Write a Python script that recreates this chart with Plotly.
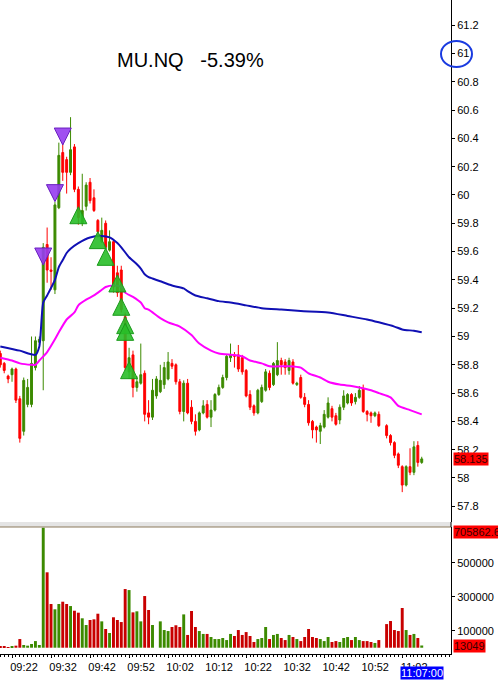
import pandas as pd
import plotly.graph_objects as go
from plotly.subplots import make_subplots

# ---------------- data (1-minute bars starting 09:19) ----------------
session_start = "2024-01-01 09:19:00"
opens = [58.88, 58.81, 58.72, 58.73, 58.77, 58.56, 58.33, 58.52, 58.52, 58.78,
         58.96, 58.97, 59.65, 59.47, 59.33, 59.91, 60.30, 60.25, 60.16, 60.34,
         60.04, 59.80, 59.92, 60.09, 59.98, 59.82, 59.67, 59.80, 59.61, 59.67,
         59.45, 59.47, 59.14, 58.75, 58.87, 58.64, 58.67, 58.74, 58.46, 58.43,
         58.58, 58.61, 58.66, 58.70, 58.81, 58.80, 58.68, 58.47, 58.67, 58.50,
         58.40, 58.34, 58.46, 58.52, 58.43, 58.48, 58.59, 58.64, 58.71, 58.85,
         58.87, 58.87, 58.85, 58.76, 58.59, 58.51, 58.46, 58.54, 58.62, 58.74,
         58.66, 58.73, 58.83, 58.82, 58.76, 58.82, 58.66, 58.71, 58.57, 58.52,
         58.40, 58.36, 58.33, 58.36, 58.43, 58.49, 58.44, 58.41, 58.50, 58.53,
         58.59, 58.54, 58.57, 58.63, 58.47, 58.46, 58.44, 58.45, None, 58.37,
         58.30, 58.25, 58.17, 58.08, 57.95, 58.08, 58.04, 58.23, 58.11]
highs = [58.90, 58.82, 58.73, 58.78, 58.78, 58.58, 58.71, 58.70, 59.00, 59.00,
         59.00, 59.66, 59.77, 59.56, 59.95, 60.37, 60.37, 60.27, 60.55, 60.36,
         60.06, 60.15, 60.09, 60.12, 60.04, 59.83, 59.84, 59.82, 59.75, 59.68,
         59.50, 59.50, 59.17, 58.92, 58.90, 58.72, 58.95, 58.76, 58.55, 58.70,
         58.72, 58.80, 58.82, 58.89, 58.84, 58.81, 58.70, 58.69, 58.70, 58.55,
         58.45, 58.47, 58.55, 58.55, 58.55, 58.60, 58.66, 58.73, 58.87, 58.95,
         58.89, 58.94, 58.87, 58.77, 58.62, 58.52, 58.63, 58.66, 58.77, 58.76,
         58.82, 58.96, 58.85, 58.84, 58.85, 58.84, 58.68, 58.73, 58.60, 58.55,
         58.41, 58.37, 58.39, 58.48, 58.57, 58.51, 58.46, 58.52, 58.62, 58.60,
         58.60, 58.60, 58.65, 58.66, 58.48, 58.47, 58.47, 58.47, None, 58.38,
         58.31, 58.26, 58.18, 58.09, 58.09, 58.21, 58.26, 58.26, 58.15]
lows = [58.78, 58.74, 58.67, 58.68, 58.53, 58.25, 58.30, 58.50, 58.50, 58.76,
        58.94, 58.62, 59.38, 59.33, 59.30, 59.90, 60.10, 60.01, 60.14, 60.02,
        59.79, 59.78, 59.89, 59.94, 59.88, 59.70, 59.66, 59.62, 59.60, 59.31,
        59.28, 59.17, 58.76, 58.70, 58.57, 58.61, 58.66, 58.40, 58.38, 58.41,
        58.56, 58.60, 58.63, 58.69, 58.77, 58.66, 58.45, 58.40, 58.45, 58.38,
        58.30, 58.33, 58.45, 58.42, 58.36, 58.47, 58.58, 58.63, 58.69, 58.82,
        58.78, 58.75, 58.73, 58.57, 58.48, 58.44, 58.45, 58.53, 58.61, 58.62,
        58.65, 58.72, 58.73, 58.73, 58.73, 58.66, 58.65, 58.56, 58.50, 58.37,
        58.28, 58.25, 58.24, 58.35, 58.42, 58.40, 58.37, 58.38, 58.48, 58.52,
        58.51, 58.52, 58.56, 58.46, 58.40, 58.39, 58.43, 58.36, None, 58.28,
        58.23, 58.14, 58.07, 57.90, 57.94, 58.02, 58.02, 58.08, 58.10]
closes = [58.80, 58.76, 58.70, 58.77, 58.55, 58.28, 58.69, 58.64, 58.81, 58.97,
          58.98, 59.63, 59.47, 59.46, 59.93, 60.28, 60.16, 60.16, 60.32, 60.04,
          59.84, 59.89, 60.07, 59.96, 59.89, 59.74, 59.75, 59.63, 59.67, 59.35,
          59.31, 59.19, 58.78, 58.85, 58.64, 58.68, 58.73, 58.45, 58.43, 58.62,
          58.70, 58.69, 58.78, 58.82, 58.79, 58.68, 58.47, 58.67, 58.46, 58.40,
          58.33, 58.46, 58.51, 58.43, 58.48, 58.59, 58.64, 58.71, 58.86, 58.87,
          58.86, 58.77, 58.75, 58.58, 58.50, 58.46, 58.62, 58.64, 58.75, 58.64,
          58.81, 58.83, 58.80, 58.78, 58.83, 58.67, 58.67, 58.57, 58.52, 58.39,
          58.34, 58.34, 58.37, 58.45, 58.53, 58.43, 58.38, 58.50, 58.58, 58.59,
          58.53, 58.57, 58.62, 58.47, 58.45, 58.44, 58.46, 58.37, None, 58.30,
          58.25, 58.16, 58.09, 57.95, 58.08, 58.04, 58.22, 58.11, 58.135]
volumes = [10000, 6000, 4000, 6000, 12000, 51000, 16000, 12000, 22000, 39000,
           16000, 705862.6, 443500, 257000, 226000, 257000, 270600, 257000, 245000, 217600,
           206000, 173000, 133500, 163000, 167000, 200000, 155000, 110000, 86500, 179000,
           163000, 151000, 345000, 339000, 208000, 214000, 155000, 304000, 222000, 133500,
           None, 155000, 104000, 98000, 122000, 132000, 122000, 196000, 75000, 216000,
           122000, 98000, 81000, 81000, 63000, 51000, 51000, 57000, 45000, 81000,
           69000, 104000, 75000, 92000, 69000, 33500, 51000, 57000, 122000, 51000,
           75000, 81000, 57000, 45000, 75000, 63000, 51000, 39000, 63000, 110000,
           63000, 57000, 51000, 39000, 63000, 33500, 39000, 33500, 57000, 63000,
           45000, 63000, 45000, 39000, 39000, 33500, 28000, 45000, None, 139000,
           157000, 104000, 98000, 233500, 104000, 75000, 81000, 57000, 13049]

# moving-average lines read at sample minutes (minute offset from 09:19)
blue_min = [0, 5, 9, 10, 11, 12, 14, 15, 16, 17, 18, 20, 23, 26, 28, 30, 31, 33, 35, 36,
            37, 38, 39, 41, 44, 47, 48, 50, 53, 56, 59, 63, 67, 72, 77, 84, 89, 94, 97, 101,
            103, 106, 108]
blue_val = [58.93, 58.90, 58.87, 58.93, 59.24, 59.29, 59.40, 59.49, 59.54, 59.59, 59.62,
            59.66, 59.70, 59.71, 59.70, 59.66, 59.63, 59.56, 59.51, 59.48, 59.44, 59.42,
            59.41, 59.39, 59.36, 59.34, 59.32, 59.29, 59.27, 59.25, 59.24, 59.22, 59.20,
            59.19, 59.18, 59.17, 59.145, 59.12, 59.10, 59.07, 59.05, 59.04, 59.03]
mag_min = [0, 3, 5, 8, 9, 10, 12, 14, 15, 17, 19, 20, 22, 24, 26, 27, 29, 31, 32, 34,
           36, 37, 38, 41, 43, 46, 49, 51, 54, 56, 60, 62, 64, 67, 69, 74, 77, 79, 82, 84,
           87, 90, 92, 95, 97, 100, 102, 105, 108]
mag_val = [58.85, 58.83, 58.81, 58.80, 58.80, 58.83, 58.89, 58.98, 59.03, 59.12, 59.17,
           59.22, 59.26, 59.29, 59.33, 59.35, 59.36, 59.35, 59.31, 59.28, 59.24, 59.20,
           59.19, 59.13, 59.10, 59.07, 59.01, 58.95, 58.90, 58.88, 58.87, 58.86, 58.83,
           58.81, 58.79, 58.79, 58.78, 58.74, 58.71, 58.68, 58.66, 58.65, 58.64, 58.62,
           58.60, 58.57, 58.51, 58.48, 58.45]

# signal markers (minute offset, price at arrow tip)
sell_min = [11, 14, 16]
sell_px = [59.505, 59.953, 60.353]
buy_min = [20, 25, 27, 30, 31, 32, 32, 33]
buy_px = [59.917, 59.741, 59.623, 59.435, 59.27, 59.14, 59.093, 58.822]

title_text = "MU.NQ\u00a0\u00a0 -5.39%"
last_price_label = "58.135"
vol_max_label = "705862.6"
vol_last_label = "13049"
time_label = "11:07:00"
x_tick_labels = ["09:22", "09:32", "09:42", "09:52", "10:02", "10:12",
                 "10:22", "10:32", "10:42", "10:52", "11:02"]

# ---------------- build ----------------
t0 = pd.Timestamp(session_start)
def tm(m):
    return t0 + pd.Timedelta(minutes=m)

times = [tm(i) for i in range(len(opens))]
valid = [i for i in range(len(opens)) if opens[i] is not None]

UP = "#3c8a00"
DOWN = "#ff0000"
VUP = "#3c8a00"
VDOWN = "#c80000"

fig = make_subplots(rows=2, cols=1, shared_xaxes=True)

fig.add_trace(go.Candlestick(
    x=[times[i] for i in valid],
    open=[opens[i] for i in valid], high=[highs[i] for i in valid],
    low=[lows[i] for i in valid], close=[closes[i] for i in valid],
    increasing=dict(line=dict(color=UP, width=1), fillcolor=UP),
    decreasing=dict(line=dict(color=DOWN, width=1), fillcolor=DOWN),
    whiskerwidth=0, showlegend=False, hoverinfo="skip"), row=1, col=1)

fig.add_trace(go.Scatter(x=[tm(m) for m in blue_min], y=blue_val, mode="lines",
                         line=dict(color="#1010b4", width=2, shape="spline", smoothing=0.6),
                         showlegend=False, hoverinfo="skip"), row=1, col=1)
fig.add_trace(go.Scatter(x=[tm(m) for m in mag_min], y=mag_val, mode="lines",
                         line=dict(color="#ff00ff", width=2, shape="spline", smoothing=0.6),
                         showlegend=False, hoverinfo="skip"), row=1, col=1)

fig.add_trace(go.Scatter(x=[tm(m) for m in sell_min], y=sell_px, mode="markers",
                         marker=dict(symbol="arrow-down", size=17, color="rgba(150,60,240,0.9)",
                                     line=dict(color="#6a1fc0", width=1)),
                         showlegend=False, hoverinfo="skip"), row=1, col=1)
fig.add_trace(go.Scatter(x=[tm(m) for m in buy_min], y=buy_px, mode="markers",
                         marker=dict(symbol="arrow-up", size=17, color="rgba(40,190,40,0.9)",
                                     line=dict(color="#1a9a1a", width=1)),
                         showlegend=False, hoverinfo="skip"), row=1, col=1)

vcolors = []
for i in range(len(opens)):
    if opens[i] is None:
        vcolors.append(VUP)
    else:
        vcolors.append(VUP if closes[i] >= opens[i] else VDOWN)
fig.add_trace(go.Bar(x=times, y=volumes, marker=dict(color=vcolors, line=dict(width=0)),
                     showlegend=False, hoverinfo="skip"), row=2, col=1)

H_PLOT = 654.0
price_bottom = (H_PLOT - 522) / H_PLOT
vol_top = (H_PLOT - 527) / H_PLOT

x_range = [tm(-0.08), tm(115.5)]
tick_font = dict(family="Liberation Sans, Arial, sans-serif", size=11, color="#000000")

fig.update_layout(
    width=498, height=680,
    margin=dict(l=0, r=47, t=0, b=26),
    paper_bgcolor="white", plot_bgcolor="white",
    bargap=0.25,
    showlegend=False,
    font=tick_font,
)
fig.update_xaxes(rangeslider_visible=False)
fig.update_layout(
    xaxis=dict(range=x_range, showticklabels=False, showgrid=False, zeroline=False,
               showline=False, ticks=""),
    xaxis2=dict(range=x_range, showgrid=False, zeroline=False, showline=True,
                linecolor="#000000", linewidth=1, ticks="outside", ticklen=3,
                tickcolor="#000000", tickmode="array",
                tickvals=[pd.Timestamp("2024-01-01 " + s) for s in x_tick_labels],
                ticktext=x_tick_labels, ticklabelshift=12, tickfont=tick_font,
                minor=dict(ticks="outside", ticklen=2, dtick=60000, tickcolor="#000000",
                           showgrid=False)),
    yaxis=dict(domain=[price_bottom, 1], range=[57.689, 61.378], side="right",
               dtick=0.2, tick0=57.8, showgrid=False, zeroline=False, showline=True,
               linecolor="#000000", linewidth=1, ticks="outside", ticklen=3,
               tickcolor="#000000", tickfont=tick_font),
    yaxis2=dict(domain=[0, vol_top], range=[-37000, 710000], side="right",
                tickmode="array", tickvals=[100000, 300000, 500000], tickformat="d",
                showgrid=False, zeroline=False, showline=True, linecolor="#000000",
                linewidth=1, ticks="outside", ticklen=3, tickcolor="#000000",
                tickfont=tick_font),
)

# separator between panes
fig.add_shape(type="rect", xref="paper", yref="paper", x0=0, x1=1,
              y0=vol_top, y1=price_bottom, fillcolor="#e4e4e4", line=dict(width=0))
fig.add_shape(type="line", xref="paper", yref="paper", x0=0, x1=1,
              y0=vol_top, y1=vol_top, line=dict(color="#8c7b5c", width=1))
fig.add_shape(type="line", xref="paper", yref="paper", x0=1, x1=1,
              y0=vol_top, y1=price_bottom, line=dict(color="#000000", width=1))
# hand-drawn blue circle around "61"
fig.add_shape(type="circle", xref="paper", yref="paper",
              x0=441 / 451, x1=472 / 451, y0=(H_PLOT - 67) / H_PLOT, y1=(H_PLOT - 41) / H_PLOT,
              line=dict(color="#1a3be0", width=2))

box_font = dict(family="Liberation Sans, Arial, sans-serif", size=11, color="#3a0000")
fig.add_annotation(text=title_text, xref="paper", yref="paper", x=190 / 451,
                   y=(H_PLOT - 60) / H_PLOT, showarrow=False, yanchor="middle",
                   font=dict(family="Liberation Sans, Arial, sans-serif", size=20, color="#000000"))
fig.add_annotation(text=last_price_label, xref="paper", yref="y", x=1, y=58.135,
                   xanchor="left", yanchor="middle", xshift=2, showarrow=False,
                   bgcolor="#ff0000", borderpad=0, font=box_font)
fig.add_annotation(text=vol_max_label, xref="paper", yref="y2", x=1, y=705862.6,
                   xanchor="left", yanchor="middle", xshift=2, yshift=-4, showarrow=False,
                   bgcolor="#ff0000", borderpad=0, font=box_font)
fig.add_annotation(text=vol_last_label, xref="paper", yref="y2", x=1, y=13049,
                   xanchor="left", yanchor="middle", xshift=2, yshift=-1, showarrow=False,
                   bgcolor="#ff0000", borderpad=0, font=box_font)
fig.add_annotation(text=time_label, xref="x2", yref="paper", x=tm(108),
                   y=-18.5 / H_PLOT, xanchor="center", yanchor="middle", showarrow=False,
                   bgcolor="#0000ff", borderpad=0,
                   font=dict(family="Liberation Sans, Arial, sans-serif", size=11, color="#ffffff"))

fig.write_html("out.html", config={"displayModeBar": False},
               post_script="document.body.style.margin='0px';")
